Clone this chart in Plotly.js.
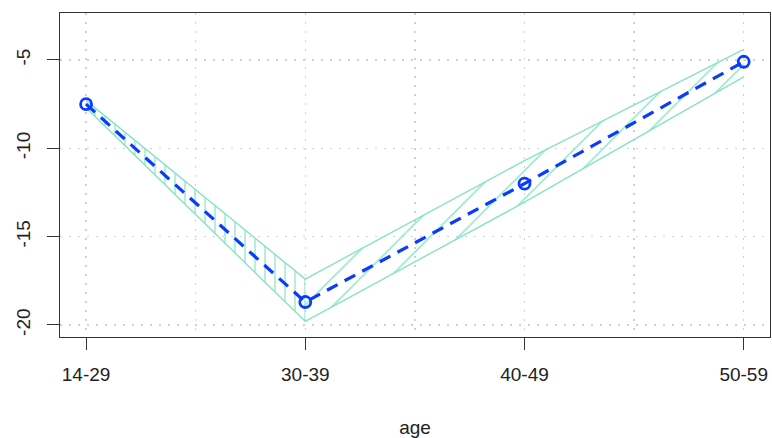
<!DOCTYPE html>
<html>
<head>
<meta charset="utf-8">
<script src="https://cdn.plot.ly/plotly-3.0.1.min.js"></script>
<style>html,body{margin:0;padding:0;background:#fff;}#chart{width:772px;height:438px;}</style>
</head>
<body>
<div id="chart"></div>
<script>
// Data
const ageGroups = ['14-29', '30-39', '40-49', '50-59'];
const estimate  = [-7.5, -18.7, -12.0, -5.1];
const upperBand = [-7.3, -17.4, -10.7, -4.4];
const lowerBand = [-7.7, -19.8, -13.05, -5.95];
const yTickVals = [-20, -15, -10, -5];
const yTickText = ['-20', '-15', '-10', '-5'];

const xIdx = ageGroups.map((_, i) => i + 1);
const bandColor = '#86e3c4';
const lineColor = '#0a3cff';

function polygon(i0, i1) {
  const xs = xIdx.slice(i0, i1 + 1);
  const up = upperBand.slice(i0, i1 + 1);
  const lo = lowerBand.slice(i0, i1 + 1);
  return {
    x: xs.concat(xs.slice().reverse()),
    y: up.concat(lo.slice().reverse())
  };
}

const seg1 = polygon(0, 1);
const seg2 = polygon(1, 3);

const traces = [
  {
    x: seg1.x, y: seg1.y, type: 'scatter', mode: 'lines', fill: 'toself',
    line: {width: 0, color: bandColor}, fillcolor: 'rgba(0,0,0,0)',
    fillpattern: {shape: '|', size: 10, solidity: 0.12, fgcolor: bandColor, fgopacity: 1, bgcolor: 'rgba(0,0,0,0)', fillmode: 'overlay'},
    hoverinfo: 'skip', showlegend: false
  },
  {
    x: seg2.x, y: seg2.y, type: 'scatter', mode: 'lines', fill: 'toself',
    line: {width: 0, color: bandColor}, fillcolor: 'rgba(0,0,0,0)',
    fillpattern: {shape: '/', size: 20, solidity: 0.07, fgcolor: bandColor, fgopacity: 1, bgcolor: 'rgba(0,0,0,0)', fillmode: 'overlay'},
    hoverinfo: 'skip', showlegend: false
  },
  {
    x: xIdx, y: upperBand, type: 'scatter', mode: 'lines',
    line: {width: 1.4, color: bandColor}, showlegend: false
  },
  {
    x: xIdx, y: lowerBand, type: 'scatter', mode: 'lines',
    line: {width: 1.4, color: bandColor}, showlegend: false
  },
  {
    x: xIdx, y: estimate, type: 'scatter', mode: 'lines+markers',
    line: {width: 3.2, color: lineColor, dash: '12px,8px'},
    marker: {symbol: 'circle-open', size: 11, color: lineColor, line: {width: 2.8, color: lineColor}},
    showlegend: false
  }
];

const fontFam = 'Liberation Sans, Arial, sans-serif';
const axisFont = {family: fontFam, size: 19, color: '#222'};
const gridDash = '2px,7px';

const layout = {
  width: 772, height: 438,
  margin: {l: 60, r: 2, t: 13, b: 101},
  paper_bgcolor: '#fff', plot_bgcolor: '#fff',
  showlegend: false,
  xaxis: {
    range: [0.881, 4.12],
    tickmode: 'array', tickvals: xIdx, ticktext: ageGroups,
    showline: true, mirror: true, linecolor: '#333', linewidth: 1,
    ticks: 'outside', ticklen: 12, tickcolor: '#333', tickwidth: 1,
    ticklabelstandoff: 8,
    showgrid: true, gridcolor: '#d0d0d0', griddash: gridDash, gridwidth: 1.3,
    minor: {tickmode: 'linear', tick0: 1, dtick: 0.5, showgrid: true, gridcolor: '#d0d0d0', griddash: gridDash, gridwidth: 1.3, ticks: ''},
    zeroline: false,
    tickfont: axisFont,
    title: {text: 'age', font: {family: fontFam, size: 19, color: '#222'}, standoff: 36},
    automargin: false
  },
  yaxis: {
    range: [-20.68, -2.34],
    tickmode: 'array', tickvals: yTickVals, ticktext: yTickText,
    tickangle: -90,
    showline: true, mirror: true, linecolor: '#333', linewidth: 1,
    ticks: 'outside', ticklen: 12, tickcolor: '#333', tickwidth: 1,
    ticklabelstandoff: 9,
    showgrid: true, gridcolor: '#d0d0d0', griddash: gridDash, gridwidth: 1.3,
    zeroline: false,
    tickfont: axisFont,
    automargin: false
  }
};

Plotly.newPlot('chart', traces, layout, {staticPlot: true, displayModeBar: false});
</script>
</body>
</html>
